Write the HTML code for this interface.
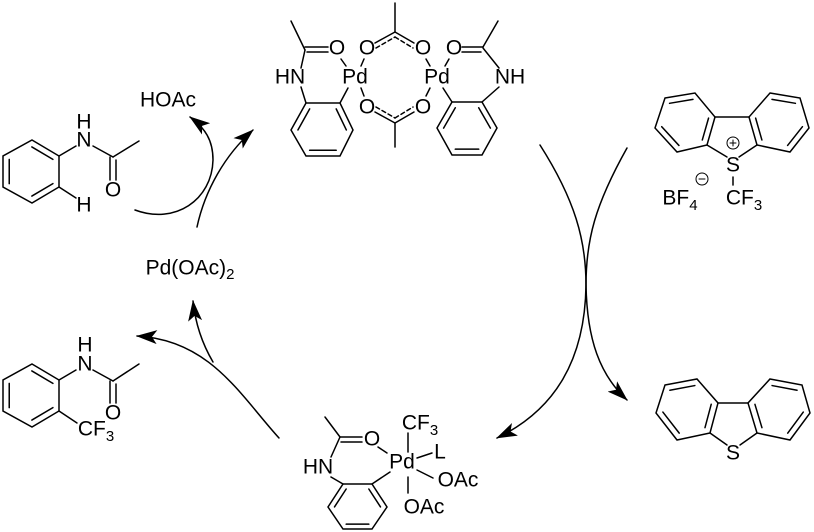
<!DOCTYPE html>
<html><head><meta charset="utf-8"><style>
html,body{margin:0;padding:0;background:#fff}
svg{display:block}
text{font-family:"Liberation Sans",Arial,sans-serif;font-size:21px;fill:#000}
.s{font-size:15px}
</style></head><body>
<svg id="sv" width="814" height="532" viewBox="0 0 814 532" xmlns="http://www.w3.org/2000/svg">
<defs>
<marker id="ah" markerWidth="22" markerHeight="14" refX="20" refY="7" orient="auto" markerUnits="userSpaceOnUse">
<path d="M0,0 L21,7 L0,14 L5,7 z" fill="#000"/></marker>
</defs>
<g id="g" stroke="#000" stroke-width="1.5" fill="none" stroke-linecap="round">
<polygon points="32,140 59,156 59,187 32,203 3,187 3,156"/>
<polygon points="306,103 340,103 353,130 340,156 306,156 291,130"/>
<polygon points="452,102 482,102 497,128 482,155 452,155 437,128"/>
<polygon points="343,484 372,484 387,507 372,529 343,529 328,507"/>
<polygon points="32,364 59,380 59,411 32,427 3,411 3,380"/>
<polygon points="665,98 695,93 715,117 707,145 677,152 655,128"/>
<polygon points="770,93 800,98 809,128 790,152 757,145 749,117"/>
<polygon points="665,385 697,379 718,403 710,433 677,440 656,413"/>
<polygon points="770,379 802,385 810,413 790,440 757,433 748,403"/>
<line x1="59" y1="156" x2="76" y2="146"/>
<line x1="93" y1="146" x2="113" y2="157"/>
<line x1="113" y1="157" x2="139" y2="141"/>
<line x1="110" y1="157" x2="110" y2="180"/>
<line x1="116" y1="160" x2="116" y2="180"/>
<line x1="59" y1="187" x2="76" y2="198"/>
<line x1="301" y1="87" x2="306" y2="103"/>
<line x1="301" y1="68" x2="305" y2="50"/>
<line x1="305" y1="50" x2="291" y2="21"/>
<line x1="305" y1="47" x2="328" y2="47"/>
<line x1="307" y1="52" x2="328" y2="52"/>
<line x1="341" y1="59" x2="346" y2="66"/>
<line x1="348" y1="88" x2="340" y2="103"/>
<line x1="361" y1="66" x2="364" y2="59"/>
<line x1="361" y1="88" x2="364" y2="96"/>
<line x1="375" y1="43" x2="395" y2="32"/>
<line x1="395" y1="32" x2="414" y2="43"/>
<line x1="376" y1="48" x2="395" y2="37" stroke-dasharray="4,3"/>
<line x1="395" y1="37" x2="413" y2="48" stroke-dasharray="4,3"/>
<line x1="395" y1="32" x2="395" y2="3"/>
<line x1="375" y1="112" x2="395" y2="123"/>
<line x1="395" y1="123" x2="414" y2="112"/>
<line x1="376" y1="107" x2="395" y2="118" stroke-dasharray="4,3"/>
<line x1="395" y1="118" x2="413" y2="107" stroke-dasharray="4,3"/>
<line x1="395" y1="123" x2="395" y2="147"/>
<line x1="426" y1="59" x2="430" y2="66"/>
<line x1="426" y1="96" x2="430" y2="88"/>
<line x1="445" y1="66" x2="449" y2="59"/>
<line x1="443" y1="88" x2="452" y2="102"/>
<line x1="462" y1="47" x2="483" y2="47"/>
<line x1="462" y1="52" x2="481" y2="52"/>
<line x1="483" y1="47" x2="498" y2="21"/>
<line x1="483" y1="48" x2="499" y2="68"/>
<line x1="499" y1="87" x2="482" y2="102"/>
<line x1="715" y1="117" x2="749" y2="117"/>
<line x1="707" y1="145" x2="727" y2="157"/>
<line x1="757" y1="145" x2="739" y2="157"/>
<line x1="733" y1="177" x2="733" y2="185"/>
<circle cx="733" cy="143" r="6" stroke-width="1"/>
<line x1="730" y1="143" x2="736" y2="143" stroke-width="1"/>
<line x1="733" y1="140" x2="733" y2="146" stroke-width="1"/>
<circle cx="702" cy="179" r="6" stroke-width="1"/>
<line x1="699" y1="179" x2="705" y2="179" stroke-width="1"/>
<line x1="718" y1="403" x2="748" y2="403"/>
<line x1="710" y1="433" x2="727" y2="445"/>
<line x1="757" y1="433" x2="740" y2="445"/>
<line x1="59" y1="380" x2="76" y2="370"/>
<line x1="93" y1="370" x2="113" y2="381"/>
<line x1="113" y1="381" x2="139" y2="364"/>
<line x1="110" y1="381" x2="110" y2="403"/>
<line x1="116" y1="384" x2="116" y2="403"/>
<line x1="59" y1="411" x2="77" y2="423"/>
<line x1="325" y1="417" x2="340" y2="437"/>
<line x1="340" y1="437" x2="362" y2="437"/>
<line x1="341" y1="442" x2="362" y2="442"/>
<line x1="340" y1="437" x2="331" y2="457"/>
<line x1="331" y1="477" x2="343" y2="484"/>
<line x1="378" y1="447" x2="387" y2="453"/>
<line x1="390" y1="472" x2="372" y2="484"/>
<line x1="408" y1="433" x2="408" y2="452"/>
<line x1="417" y1="458" x2="432" y2="453"/>
<line x1="417" y1="470" x2="433" y2="478"/>
<line x1="408" y1="477" x2="408" y2="493"/>
<path d="M135,210 C175,225 212,200 213,160 C213,140 205,128 190,117" marker-end="url(#ah)"/>
<path d="M197,227 C205,190 225,155 253,130" marker-end="url(#ah)"/>
<path d="M279,438 C240,395 210,340 137,336" marker-end="url(#ah)"/>
<path d="M213,362 C200,340 195,320 193,301" marker-end="url(#ah)"/>
<path d="M627,148 C595,205 586,240 586,285 C585,360 555,410 497,438" marker-end="url(#ah)"/>
<path d="M540,145 C575,200 586,240 586,285 C587,340 600,375 627,400" marker-end="url(#ah)"/>
</g>
<g text-anchor="middle" dominant-baseline="central">
<text x="84" y="122">H</text><text x="84" y="140">N</text>
<text x="113" y="190">O</text><text x="84" y="205">H</text>
<text x="168" y="100">HOAc</text>
<text x="190" y="268">Pd(OAc)<tspan class="s" dy="6">2</tspan></text>
<text x="290" y="77">HN</text><text x="337" y="48">O</text>
<text x="355" y="77">Pd</text><text x="367" y="48">O</text><text x="423" y="48">O</text>
<text x="367" y="107">O</text><text x="423" y="107">O</text>
<text x="437" y="77">Pd</text><text x="454" y="48">O</text><text x="510" y="77">NH</text>
<text x="733" y="165">S</text>
<text x="680" y="198">BF<tspan class="s" dy="7">4</tspan></text>
<text x="744" y="198">CF<tspan class="s" dy="7">3</tspan></text>
<text x="733" y="453">S</text>
<text x="85" y="345">H</text><text x="85" y="364">N</text>
<text x="113" y="413">O</text>
<text x="96" y="429">CF<tspan class="s" dy="7">3</tspan></text>
<text x="318" y="467">HN</text><text x="372" y="439">O</text>
<text x="402" y="462">Pd</text>
<text x="420" y="423">CF<tspan class="s" dy="7">3</tspan></text>
<text x="440" y="452">L</text>
<text x="458" y="480">OAc</text>
<text x="424" y="507">OAc</text>
</g>
</svg>
<script>
(function(){
var g=document.getElementById('g');
var rings=[
[[32,140],[59,156],[59,187],[32,203],[3,187],[3,156]],
[[306,103],[340,103],[353,130],[340,156],[306,156],[291,130]],
[[452,102],[482,102],[497,128],[482,155],[452,155],[437,128]],
[[343,484],[372,484],[387,507],[372,529],[343,529],[328,507]],
[[32,364],[59,380],[59,411],[32,427],[3,411],[3,380]],
[[665,98],[695,93],[715,117],[707,145],[677,152],[655,128]],
[[770,93],[800,98],[809,128],[790,152],[757,145],[749,117]],
[[665,385],[697,379],[718,403],[710,433],[677,440],[656,413]],
[[770,379],[802,385],[810,413],[790,440],[757,433],[748,403]]];
rings.forEach(function(r,ri){
var cx=0,cy=0;r.forEach(function(p){cx+=p[0];cy+=p[1]});cx/=6;cy/=6;
var e=[[0,1],[2,3],[4,5]]; if(ri==1||ri==2||ri==3) e=[[1,2],[3,4],[5,0]];
e.forEach(function(x){var a=r[x[0]],b=r[x[1]],k=0.22;
var ax=a[0]+(cx-a[0])*k,ay=a[1]+(cy-a[1])*k,bx=b[0]+(cx-b[0])*k,by=b[1]+(cy-b[1])*k;
var l=document.createElementNS('http://www.w3.org/2000/svg','line');
l.setAttribute('x1',ax);l.setAttribute('y1',ay);l.setAttribute('x2',bx);l.setAttribute('y2',by);g.appendChild(l);});
});
})();
</script>
</body></html>
